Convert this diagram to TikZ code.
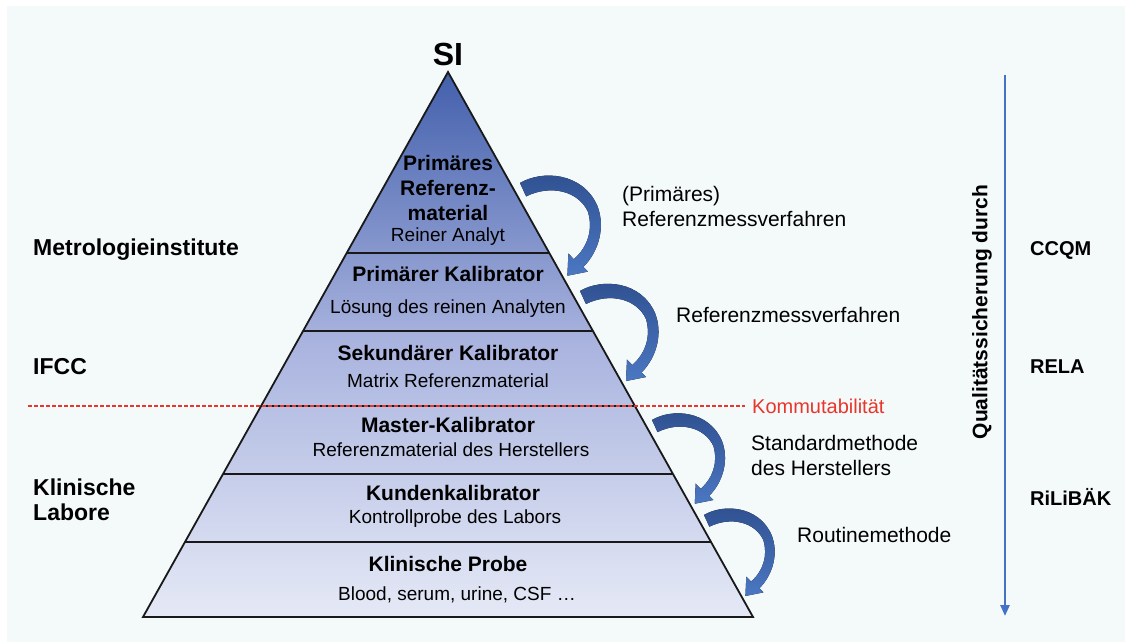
\documentclass[tikz,border=0pt]{standalone}
\usepackage{fontspec}
\setmainfont{Liberation Sans}
\usetikzlibrary{arrows.meta}
\definecolor{bgc}{HTML}{F4F9FA}
\definecolor{pyrtop}{HTML}{4360AC}
\definecolor{pyrmid}{HTML}{AAB4DF}
\definecolor{pyrbot}{HTML}{E5E9F6}
\definecolor{arrtop}{HTML}{2F5090}
\definecolor{arrbot}{HTML}{4B77C2}
\definecolor{axisc}{HTML}{4472C4}
\definecolor{redc}{HTML}{E8362C}
\tikzset{
  hd/.style={font=\fontsize{21}{25}\selectfont\bfseries,inner sep=0pt,align=center},
  sub/.style={font=\fontsize{19}{22}\selectfont,inner sep=0pt},
  lbl/.style={font=\fontsize{21}{25}\selectfont,anchor=west,inner sep=0pt,align=left},
  org/.style={font=\fontsize{20}{25}\selectfont\bfseries,anchor=west,inner sep=0pt,align=left},
  orgl/.style={org,font=\fontsize{23}{25}\selectfont\bfseries},
  layer/.style={line width=1.8pt,black!90},
  curvarr/.pic={
    \fill[top color=arrtop,bottom color=arrbot] (0,0) .. controls (22,-13) and (61,-10) .. (75,22)
      .. controls (83,42) and (77,66) .. (61.5,81.5) -- (66,86) -- (46,90) -- (47,68.5) -- (52.3,74)
      .. controls (66,62) and (71,45) .. (66,28) .. controls (57,8) and (30,1) .. (6,13) -- cycle;
  }
}
\begin{document}
\begin{tikzpicture}[x=1pt,y=-1pt]
\useasboundingbox (0,0) rectangle (1125,642);
\fill[white] (0,0) rectangle (1125,642);
\fill[bgc] (7,6) rectangle (1125,642);
% pyramid
\coordinate (apex) at (448,72);
\coordinate (bl) at (143,617);
\coordinate (br) at (753,617);
\shade[top color=pyrtop,bottom color=pyrbot,middle color=pyrmid] (apex) -- (br) -- (bl) -- cycle;
\foreach \yy in {253,331,406,474,542}
  \draw[layer] ({448-0.56*(\yy-72)},\yy) -- ({448+0.56*(\yy-72)},\yy);
\draw[layer,line join=miter] (apex) -- (br) -- (bl) -- cycle;
% Kommutabilitaet
\node[lbl,text=redc,font=\fontsize{20}{25}\selectfont] (kom) at (752,406) {Kommutabilität};
\coordinate (kstart) at (28,406);
\draw[redc,line width=1.1pt,dash pattern=on 4pt off 2pt,shorten >=7pt] (kstart) -- (kom.west);
\node[hd,font=\fontsize{32}{36}\selectfont\bfseries] (si) at (448,54) {SI};
% layers
\node[hd] (prm) at (448,188) {Primäres\\Referenz-\\material};
\node[sub] (prmsub) at (448,237) {Reiner Analyt};
\node[hd] (kal1) at (448,274) {Primärer Kalibrator};
\node[sub] (kal1sub) at (448,309) {Lösung des reinen Analyten};
\node[hd] (kal2) at (448,353) {Sekundärer Kalibrator};
\node[sub] (kal2sub) at (448,381) {Matrix Referenzmaterial};
\node[hd] (mst) at (448,425) {Master-Kalibrator};
\node[sub] (mstsub) at (451,450) {Referenzmaterial des Herstellers};
\node[hd] (kdn) at (453,493) {Kundenkalibrator};
\node[sub] (kdnsub) at (455,519) {Kontrollprobe des Labors};
\node[hd] (prb) at (448,564) {Klinische Probe};
\node[sub] (prbsub) at (457,595) {Blood, serum, urine, CSF …};
% curved arrows
\pic[scale=1.03] at (520,183) {curvarr};
\pic at (580,291) {curvarr};
\pic[scale=0.93] at (652,420) {curvarr};
\pic[scale=0.9] at (704,515) {curvarr};
% methods
\node[lbl] (mth1) at (622,206) {(Primäres)\\Referenzmessverfahren};
\node[lbl] (mth2) at (676,315) {Referenzmessverfahren};
\node[lbl] (mth3) at (751,455) {Standardmethode\\des Herstellers};
\node[lbl] (mth4) at (797,535) {Routinemethode};
% institutions
\node[orgl] (metro) at (33,250) {Metrologieinstitute};
\node[orgl] (ifcc) at (33,367) {IFCC};
\node[orgl] (labs) at (33,500) {Klinische\\Labore};
\node[org] (ccqm) at (1030,250) {CCQM};
\node[org] (rela) at (1030,367) {RELA};
\node[org] (rili) at (1030,497) {RiLiBÄK};
% quality axis
\node[org,font=\fontsize{21}{25}\selectfont\bfseries,anchor=center,rotate=90] (qual) at (982,312) {Qualitätssicherung durch};
\coordinate (qtop) at (1005,75);
\coordinate (qbot) at (1005,616);
\draw[axisc,line width=2.4pt,-{Triangle[length=11pt,width=9pt]}] (qtop) -- (qbot);
\end{tikzpicture}
\end{document}
